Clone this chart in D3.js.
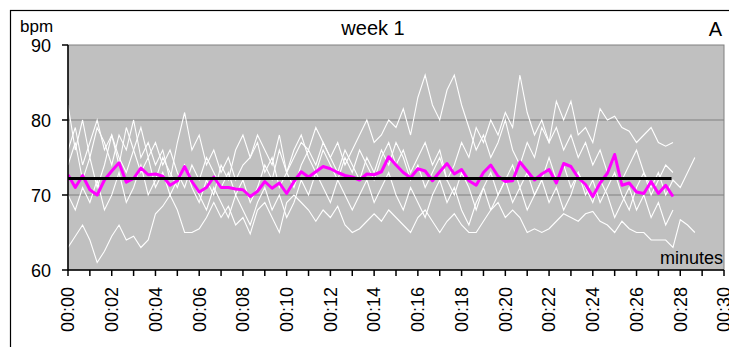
<!DOCTYPE html>
<html>
<head>
<meta charset="utf-8">
<script src="https://cdn.jsdelivr.net/npm/d3@7"></script>
<style>
  body { margin: 0; background: #fff; }
  text { font-family: "Liberation Sans", Arial, sans-serif; fill: #000; }
</style>
</head>
<body>
<svg id="chart"></svg>
<script>
// heart rate samples, one value every 20 seconds (minutes on x)
var sampleStep = 1 / 3;

var subjectA = [63,64.5,66,64,61,62.5,64.5,66,64,64.5,
  63,64,67.5,68.5,70,68,65,65,65.5,67,
  69,67,68.5,66,67,64.8,68,69,67,65,
  69,70,69,68,66.5,68,67,68.5,66,65,
  65.5,66.5,67.5,66.5,68,67,66,65,67,68,
  66.5,65,66.5,67.5,66,65,65,66.5,68,69,
  67,68,67,65,65.5,65,65.5,66.5,67.5,67,
  66.5,67.5,67.8,66.5,66,65,66.5,65.5,65,65,
  64,64,64,63,66.7,66,65];
var subjectB = [82,76,80,75,79,77,74,78,76,80,
  75,77,74,76,72,77,81,76,78,74,
  76,73,75,72,74,75,78,76,74,78,
  73,75,77,76,79,77,75,77,74,76,
  78,80,77,78,80,79,81.5,78,83,86,
  82,80,84,86,82,79,76,78,75,77,
  80,76,74,77,75,79,77,82.5,80,82.5,
  78,79,77,81.5,80,80.5,79,78.5,77,78,
  79,77,76.5,77];
var subjectC = [76,79,74,77,80,76,78,74,79,76,
  73,75,71,73,70,72,74,71,69,72,
  70,74,72,76,78,75,77,73,75,71,
  73,76,78,75,73,76,74,72,75,73,
  76,74,72,75,77,74,76,73,75,77,
  74,76,72,74,77,75,79,77,80,78,
  81,79,86,81,78,80,77,79,76,78,
  75,77,74,76,73,75,72,74,76,73,
  71,73,70,72,71,73,75];
var subjectD = [70,68,71,69,72,68,70,73,69,71,
  74,70,72,75,73,71,74,72,70,68,
  71,69,67,70,68,66,69,71,68,70,
  67,69,72,70,73,71,69,72,70,68,
  70,72,69,71,73,70,68,71,69,67,
  70,72,69,71,68,66,69,71,68,70,
  72,69,71,68,70,72,69,71,68,70,
  73,71,69,72,70,67,69,71,68,70,
  67,69,66,68];
var subjectE = [74,77,72,75,71,74,78,75,73,76,
  79,75,77,74,76,73,71,74,72,75,
  73,71,73,70,72,69,71,74,72,76,
  73,71,74,76,74,77,75,73,76,74,
  72,75,73,76,74,77,75,72,74,71,
  73,75,72,70,73,71,68,71,73,70,
  72,74,71,73,70,72,75,72,74,71,
  73,70,72,69,71,73,70,68,71,73,
  70,72,74,73];

// mean of the week (magenta)
var weekMean = [72.7,71.0,72.6,70.7,70.0,72.0,73.2,74.3,71.7,72.2,
  73.6,72.7,72.8,72.5,71.3,71.9,73.8,71.8,70.4,71.0,
  72.4,71.0,71.0,70.8,70.7,69.8,70.5,71.8,70.9,71.6,
  70.2,71.8,73.1,72.4,73.1,73.8,73.5,73.0,72.6,72.4,
  72.0,72.8,72.7,73.1,75.1,74.0,73.0,72.3,73.5,73.2,
  71.9,73.1,74.2,72.8,73.4,71.9,71.3,73.0,74.0,72.5,
  71.8,71.9,74.4,73.2,72.0,72.8,73.4,71.6,74.2,73.8,
  72.3,71.4,69.8,71.6,72.9,75.4,71.3,71.6,70.4,70.2,
  71.8,70.2,71.3,69.8];

// overall average (black)
var overallAvg = 72.2;
var overallSpan = [0, 27.6];

var yTicks = [60, 70, 80, 90];
var yGrid = [70, 80];
var xTicks = d3.range(0, 31, 2);
var xMinorTicks = d3.range(0, 31, 1);
var xTickLabels = ["00:00","00:02","00:04","00:06","00:08","00:10","00:12","00:14",
  "00:16","00:18","00:20","00:22","00:24","00:26","00:28","00:30"];

var W = 729, H = 347;
var plot = {left: 68, top: 45, right: 724, bottom: 270};

var svg = d3.select("#chart").attr("width", W).attr("height", H);

// outer chart frame (extends past the picture edge)
svg.append("rect")
    .attr("x", 10.5).attr("y", 10.5)
    .attr("width", 740).attr("height", 360)
    .attr("fill", "#fff").attr("stroke", "#000").attr("stroke-width", 1.2);

var x = d3.scaleLinear().domain([0, 30]).range([plot.left, plot.right]);
var y = d3.scaleLinear().domain([60, 90]).range([plot.bottom, plot.top]);

// plot area
svg.append("rect")
    .attr("x", plot.left).attr("y", plot.top)
    .attr("width", plot.right - plot.left).attr("height", plot.bottom - plot.top)
    .attr("fill", "#c0c0c0").attr("stroke", "#808080");

svg.selectAll("line.grid")
    .data(yGrid).enter().append("line")
    .attr("class", "grid")
    .attr("x1", plot.left).attr("x2", plot.right)
    .attr("y1", function(d) { return y(d); }).attr("y2", function(d) { return y(d); })
    .attr("stroke", "#808080").attr("stroke-width", 1.2);

svg.append("clipPath").attr("id", "clip")
  .append("rect")
    .attr("x", plot.left).attr("y", plot.top)
    .attr("width", plot.right - plot.left).attr("height", plot.bottom - plot.top);

var lines = svg.append("g").attr("clip-path", "url(#clip)");

var line = d3.line()
    .x(function(d, i) { return x(i * sampleStep); })
    .y(function(d) { return y(d); });

lines.selectAll("path.subject")
    .data([subjectA, subjectB, subjectC, subjectD, subjectE])
    .enter().append("path")
    .attr("class", "subject")
    .attr("d", line)
    .attr("fill", "none")
    .attr("stroke", "#fff")
    .attr("stroke-width", 1.1);

lines.append("path")
    .attr("d", line(weekMean))
    .attr("fill", "none")
    .attr("stroke", "#ff00ff")
    .attr("stroke-width", 3)
    .attr("stroke-linejoin", "round");

lines.append("line")
    .attr("x1", x(overallSpan[0])).attr("x2", x(overallSpan[1]))
    .attr("y1", y(overallAvg)).attr("y2", y(overallAvg))
    .attr("stroke", "#000").attr("stroke-width", 3);

// y axis
var yAxis = svg.append("g").attr("transform", "translate(" + plot.left + ",0)");
yAxis.append("line")
    .attr("x1", 0).attr("x2", 0).attr("y1", plot.top).attr("y2", plot.bottom + 0.5)
    .attr("stroke", "#000").attr("stroke-width", 1.5);
yAxis.selectAll("line.tick")
    .data(yTicks).enter().append("line")
    .attr("class", "tick")
    .attr("x1", -6).attr("x2", 0)
    .attr("y1", function(d) { return y(d); }).attr("y2", function(d) { return y(d); })
    .attr("stroke", "#000").attr("stroke-width", 1.5);
yAxis.selectAll("text")
    .data(yTicks).enter().append("text")
    .attr("x", -17)
    .attr("y", function(d) { return y(d) + 7; })
    .attr("text-anchor", "end")
    .style("font-size", "18px")
    .text(function(d) { return d; });

// x axis
var xAxis = svg.append("g").attr("transform", "translate(0," + plot.bottom + ")");
xAxis.append("line")
    .attr("x1", plot.left).attr("x2", plot.right).attr("y1", 0).attr("y2", 0)
    .attr("stroke", "#000").attr("stroke-width", 1.5);
xAxis.selectAll("line.tick")
    .data(xMinorTicks).enter().append("line")
    .attr("class", "tick")
    .attr("x1", function(d) { return x(d); }).attr("x2", function(d) { return x(d); })
    .attr("y1", 0).attr("y2", 6)
    .attr("stroke", "#000").attr("stroke-width", 1.5);
xAxis.selectAll("text")
    .data(xTicks).enter().append("text")
    .attr("text-anchor", "end")
    .attr("transform", function(d) { return "translate(" + x(d) + ",17)rotate(-90)"; })
    .attr("dy", "0.35em")
    .style("font-size", "18px")
    .text(function(d, i) { return xTickLabels[i]; });

// labels
svg.append("text")
    .attr("x", 373).attr("y", 35)
    .attr("text-anchor", "middle")
    .style("font-size", "20px")
    .text("week 1");
svg.append("text")
    .attr("x", 722).attr("y", 36)
    .attr("text-anchor", "end")
    .style("font-size", "20px")
    .text("A");
svg.append("text")
    .attr("x", 20).attr("y", 31.5)
    .style("font-size", "17px")
    .text("bpm");
svg.append("text")
    .attr("x", plot.right - 1).attr("y", 264)
    .attr("text-anchor", "end")
    .style("font-size", "18px")
    .text("minutes");
</script>
</body>
</html>
